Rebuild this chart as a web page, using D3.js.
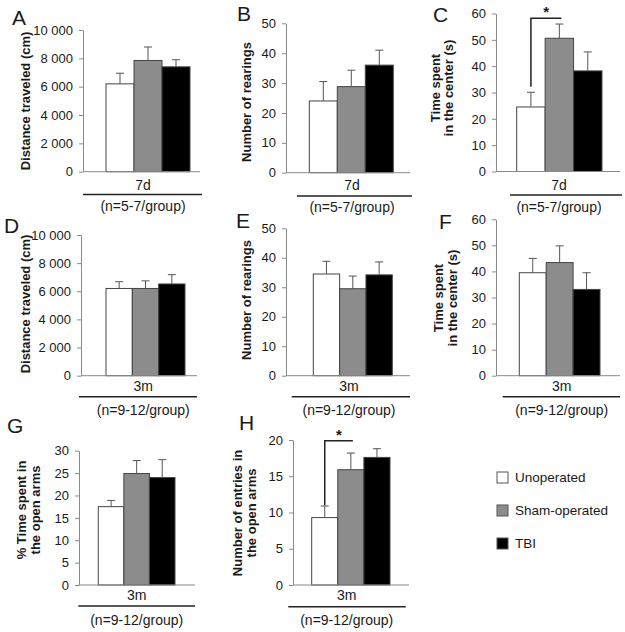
<!DOCTYPE html>
<html>
<head>
<meta charset="utf-8">
<script src="https://cdn.jsdelivr.net/npm/d3@7"></script>
<style>
	body { margin: 0; background: #fff; }
	text { font-family: "Liberation Sans", Arial, sans-serif; fill: #1a1a1a; }
	.tick text { font-size: 13px; }
	.ylab { font-size: 13px; font-weight: bold; }
	.letter { font-size: 21px; }
	.cat { font-size: 14px; }
</style>
</head>
<body>
<div id="chart"></div>
<script>
// groups and fills
var groups = ["Unoperated", "Sham-operated", "TBI"];
var fills = ["#ffffff", "#8c8c8c", "#000000"];

// means and SEM
var distance7d = [6200, 7850, 7400];
var distance7dErr = [750, 950, 500];
var rearings7d = [24, 28.8, 36];
var rearings7dErr = [6.5, 5.5, 5];
var center7d = [24.5, 50.6, 38.2];
var center7dErr = [5.6, 5.4, 7.2];
var distance3m = [6200, 6200, 6520];
var distance3mErr = [480, 540, 660];
var rearings3m = [34.5, 29.5, 34.2];
var rearings3mErr = [4.3, 4.3, 4.4];
var center3m = [39.5, 43.4, 33.1];
var center3mErr = [5.5, 6.4, 6.4];
var openTime3m = [17.5, 24.9, 24.0];
var openTime3mErr = [1.4, 2.9, 4.0];
var openEntries3m = [9.3, 15.9, 17.6];
var openEntries3mErr = [1.6, 2.3, 1.2];

// tick values
var ticksDistance = [0, 2000, 4000, 6000, 8000, 10000];
var ticksRear = [0, 10, 20, 30, 40, 50];
var ticksCenter = [0, 10, 20, 30, 40, 50, 60];
var ticksOpenTime = [0, 5, 10, 15, 20, 25, 30];
var ticksEntries = [0, 5, 10, 15, 20];

var fmtSpace = function(d) { return d3.format(",")(d).replace(/,/g, " "); };

var panels = [
	{ letter: "A", lx: 12, ly: 25, vals: distance7d, err: distance7dErr, ticks: ticksDistance, max: 10000, fmt: fmtSpace,
	  ax: 83, y0: 171.7, yTop: 30, b0: 106, b1: 190, axEnd: 200, cat: "7d", cx: 143, catY: 190, lineX: [83, 202], lineY: 194.5, nY: 211,
	  n: "(n=5-7/group)", ylab: ["Distance traveled (cm)"], ylx: 25, yly: 101 },
	{ letter: "B", lx: 237, ly: 21, vals: rearings7d, err: rearings7dErr, ticks: ticksRear, max: 50,
	  ax: 286, y0: 172.7, yTop: 23.3, b0: 309.3, b1: 393.3, axEnd: 410, cat: "7d", cx: 352, catY: 190, lineX: [297, 412], lineY: 196, nY: 212,
	  n: "(n=5-7/group)", ylab: ["Number of rearings"], ylx: 246.7, yly: 102 },
	{ letter: "C", lx: 433, ly: 22, vals: center7d, err: center7dErr, ticks: ticksCenter, max: 60,
	  ax: 496, y0: 171.5, yTop: 13.5, b0: 516.7, b1: 602, axEnd: 620, cat: "7d", cx: 559, catY: 190, lineX: [510, 622], lineY: 195, nY: 212,
	  n: "(n=5-7/group)", ylab: ["Time spent", "in the center (s)"], ylx: 442, yly: 88,
	  sig: { lo: 32.2, hi: 58.2 } },
	{ letter: "D", lx: 4, ly: 233, vals: distance3m, err: distance3mErr, ticks: ticksDistance, max: 10000, fmt: fmtSpace,
	  ax: 81, y0: 375.7, yTop: 235, b0: 106, b1: 185, axEnd: 197, cat: "3m", cx: 143.3, catY: 390.5, lineX: [79, 197], lineY: 396.7, nY: 415,
	  n: "(n=9-12/group)", ylab: ["Distance traveled (cm)"], ylx: 25, yly: 304 },
	{ letter: "E", lx: 236, ly: 228, vals: rearings3m, err: rearings3mErr, ticks: ticksRear, max: 50,
	  ax: 286, y0: 375.7, yTop: 228.3, b0: 313.3, b1: 392.3, axEnd: 410, cat: "3m", cx: 349, catY: 390.5, lineX: [291.7, 410], lineY: 396.7, nY: 415,
	  n: "(n=9-12/group)", ylab: ["Number of rearings"], ylx: 246.7, yly: 300 },
	{ letter: "F", lx: 439, ly: 229, vals: center3m, err: center3mErr, ticks: ticksCenter, max: 60,
	  ax: 496, y0: 375.7, yTop: 219.3, b0: 519.3, b1: 600, axEnd: 620, cat: "3m", cx: 561.7, catY: 390.5, lineX: [502.7, 620], lineY: 396.7, nY: 415,
	  n: "(n=9-12/group)", ylab: ["Time spent", "in the center (s)"], ylx: 445.5, yly: 298 },
	{ letter: "G", lx: 7, ly: 433, vals: openTime3m, err: openTime3mErr, ticks: ticksOpenTime, max: 30,
	  ax: 79, y0: 585, yTop: 450.7, b0: 98.3, b1: 175, axEnd: 195, cat: "3m", cx: 136.7, catY: 600, lineX: [78.3, 195], lineY: 606, nY: 625,
	  n: "(n=9-12/group)", ylab: ["% Time spent in", "the open arms"], ylx: 28.5, yly: 510 },
	{ letter: "H", lx: 239, ly: 430, vals: openEntries3m, err: openEntries3mErr, ticks: ticksEntries, max: 20,
	  ax: 293, y0: 585, yTop: 440, b0: 311.7, b1: 390, axEnd: 409, cat: "3m", cx: 346.7, catY: 600, lineX: [288.3, 405.7], lineY: 606.7, nY: 625,
	  n: "(n=9-12/group)", ylab: ["Number of entries in", "the open arms"], ylx: 244.5, yly: 513,
	  sig: { lo: 11.0, hi: 19.9 } }
];

var svg = d3.select("#chart").append("svg")
	.attr("width", 625)
	.attr("height", 632);

panels.forEach(function(p) {
	var g = svg.append("g");
	var y = d3.scaleLinear().domain([0, p.max]).range([p.y0, p.yTop]);
	var x = d3.scaleBand().domain(groups).range([p.b0, p.b1]).padding(0);

	g.append("text").attr("class", "letter")
		.attr("x", p.lx).attr("y", p.ly)
		.text(p.letter);

	// y axis
	var yAxis = d3.axisLeft(y).tickValues(p.ticks).tickSizeOuter(0).tickSizeInner(4).tickPadding(6);
	if (p.fmt) yAxis.tickFormat(p.fmt);
	var ya = g.append("g").attr("transform", "translate(" + p.ax + ",0)").call(yAxis);
	ya.selectAll("path, line").attr("stroke", "#8a8a8a");
	ya.selectAll("text").attr("fill", "#1a1a1a").style("font-family", "Liberation Sans, Arial, sans-serif");

	// bars
	g.selectAll("rect.bar").data(p.vals).enter().append("rect")
		.attr("class", "bar")
		.attr("x", function(d, i) { return x(groups[i]); })
		.attr("y", function(d) { return y(d); })
		.attr("width", x.bandwidth())
		.attr("height", function(d) { return p.y0 - y(d); })
		.attr("fill", function(d, i) { return fills[i]; })
		.attr("stroke", "#444")
		.attr("stroke-width", 1);

	// error bars (upper only)
	var eb = g.selectAll("g.err").data(p.vals).enter().append("g").attr("class", "err");
	eb.append("line")
		.attr("x1", function(d, i) { return x(groups[i]) + x.bandwidth() / 2; })
		.attr("x2", function(d, i) { return x(groups[i]) + x.bandwidth() / 2; })
		.attr("y1", function(d) { return y(d); })
		.attr("y2", function(d, i) { return y(d + p.err[i]); })
		.attr("stroke", "#555").attr("stroke-width", 1);
	eb.append("line")
		.attr("x1", function(d, i) { return x(groups[i]) + x.bandwidth() / 2 - 4; })
		.attr("x2", function(d, i) { return x(groups[i]) + x.bandwidth() / 2 + 4; })
		.attr("y1", function(d, i) { return y(d + p.err[i]); })
		.attr("y2", function(d, i) { return y(d + p.err[i]); })
		.attr("stroke", "#555").attr("stroke-width", 1);

	// x axis baseline
	g.append("line")
		.attr("x1", p.ax).attr("x2", p.axEnd)
		.attr("y1", p.y0).attr("y2", p.y0)
		.attr("stroke", "#8a8a8a").attr("stroke-width", 1);

	g.append("text").attr("class", "cat")
		.attr("x", p.cx).attr("y", p.catY)
		.attr("text-anchor", "middle")
		.text(p.cat);
	g.append("line")
		.attr("x1", p.lineX[0]).attr("x2", p.lineX[1])
		.attr("y1", p.lineY).attr("y2", p.lineY)
		.attr("stroke", "#222").attr("stroke-width", 1.5);
	g.append("text").attr("class", "cat")
		.attr("x", p.cx).attr("y", p.nY)
		.attr("text-anchor", "middle")
		.text(p.n);

	// y label
	var yl = g.append("text").attr("class", "ylab")
		.attr("transform", "translate(" + p.ylx + "," + p.yly + ") rotate(-90)")
		.attr("text-anchor", "middle");
	var nl = p.ylab.length;
	p.ylab.forEach(function(s, i) {
		yl.append("tspan")
			.attr("x", 0)
			.attr("y", (i - (nl - 1) / 2) * 13.5 + 4.5)
			.text(s);
	});

	// significance bracket
	if (p.sig) {
		var xa = x(groups[0]) + x.bandwidth() / 2;
		var xb = x(groups[1]) + x.bandwidth() / 2 + 2;
		g.append("path")
			.attr("d", "M" + xa + "," + y(p.sig.lo) + "V" + y(p.sig.hi) + "H" + xb)
			.attr("fill", "none").attr("stroke", "#222").attr("stroke-width", 1.5);
		g.append("text")
			.attr("x", (xa + xb) / 2).attr("y", y(p.sig.hi) - 1)
			.attr("text-anchor", "middle")
			.style("font-size", "15px").style("font-weight", "bold")
			.text("*");
	}
});

// legend
var legend = svg.append("g").attr("transform", "translate(497,472)");
var lg = legend.selectAll("g").data(groups).enter().append("g")
	.attr("transform", function(d, i) { return "translate(0," + (i * 33) + ")"; });
lg.append("rect")
	.attr("width", 11).attr("height", 11)
	.attr("fill", function(d, i) { return fills[i]; })
	.attr("stroke", "#555");
lg.append("text")
	.attr("x", 18).attr("y", 10)
	.style("font-size", "13.5px")
	.text(function(d) { return d; });
</script>
</body>
</html>
